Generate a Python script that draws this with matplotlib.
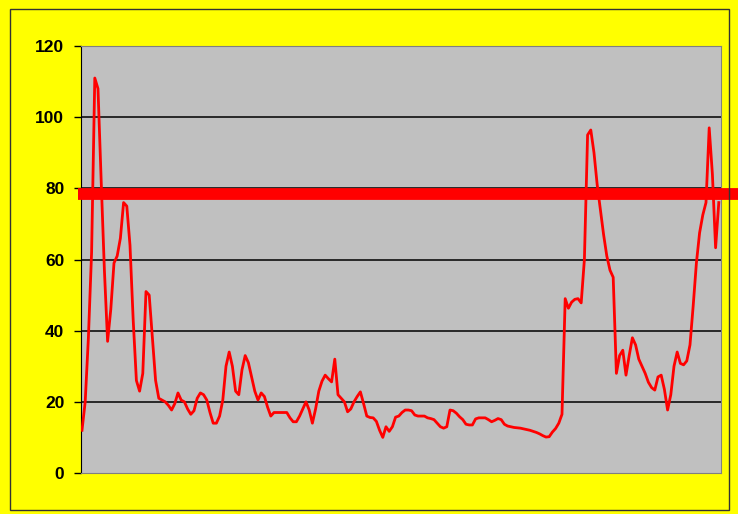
import matplotlib
matplotlib.use("Agg")
import matplotlib.pyplot as plt
from matplotlib.patches import Rectangle

# daily readings, oldest first
readings = [
    12, 20, 38, 62, 111, 108, 82, 57, 37, 46,
    59, 61, 66, 76, 75, 64, 43, 26, 23, 28,
    51, 50, 38, 26, 21, 20.5, 20, 19, 17.7, 19.5,
    22.5, 20.5, 20, 18, 16.5, 17.5, 21, 22.5, 22, 20.5,
    17, 14, 14, 16, 20.5, 30, 34, 30, 23, 22,
    29, 33, 31, 27, 23, 20.5, 22.5, 21.5, 18.5, 16,
    17, 17, 17, 17, 17, 15.5, 14.4, 14.4, 16, 18,
    20, 17.7, 14, 18, 23, 25.8, 27.5, 26.5, 25.6, 32,
    22, 21, 20, 17.2, 18, 20, 21.5, 22.8, 19.5, 16,
    15.6, 15.5, 14.5, 12, 10, 13, 11.7, 13, 15.7, 16,
    17, 17.7, 17.7, 17.5, 16.3, 16, 16, 16, 15.5, 15.3,
    15, 14, 13, 12.6, 13, 17.7, 17.5, 16.8, 15.8, 15,
    13.7, 13.5, 13.5, 15.2, 15.5, 15.5, 15.5, 15, 14.4, 14.8,
    15.3, 15, 13.7, 13.2, 13, 12.8, 12.7, 12.6, 12.4, 12.2,
    12, 11.7, 11.4, 11, 10.5, 10.1, 10.2, 11.5, 12.5, 14,
    16.5, 49, 46.3, 48, 48.8, 49, 47.8, 60, 95, 96.4,
    90, 81, 74, 67, 61, 57, 55, 28, 33, 34.5,
    27.5, 33, 38, 36, 32, 30, 28, 25.5, 24, 23.3,
    27, 27.5, 23.5, 17.7, 22, 30, 34, 30.8, 30.4, 31.5,
    36, 47, 59, 67.5, 72.5, 76, 97, 84, 63.3, 76,
]
threshold = 78.5
y_ticks = [0, 20, 40, 60, 80, 100, 120]

fig = plt.figure(figsize=(7.38, 5.14), dpi=100, facecolor="#ffff00")
ax = fig.add_axes([81 / 738, 41 / 514, 640 / 738, 427 / 514])
ax.set_facecolor("#c0c0c0")

# outer frame round the whole chart
fig.patches.append(Rectangle((10 / 738, 4 / 514), 719 / 738, 501 / 514,
                             transform=fig.transFigure, fill=False,
                             edgecolor="#333333", linewidth=1.0))

for v in y_ticks[1:]:
    ax.axhline(v, color="black", linewidth=1.1, zorder=1)

ax.plot(range(len(readings)), readings, color="#ff0000", linewidth=2.0, zorder=3)

# limit line runs past the plot area
ax.axhline(threshold, xmin=-0.005, xmax=1.03, color="#ff0000",
           linewidth=8.5, clip_on=False, zorder=4, solid_capstyle="butt")

ax.set_xlim(-0.31, len(readings) - 1 + 0.69)
ax.set_ylim(0, 120)
ax.set_xticks([])
ax.set_yticks(y_ticks)
ax.set_yticklabels([str(v) for v in y_ticks], fontsize=12.5,
                   fontweight="bold", family="Liberation Sans")
ax.tick_params(axis="y", direction="out", length=5, width=1.0, pad=7,
               colors="black")

for side in ["top", "right", "bottom"]:
    ax.spines[side].set_color("#808080")
ax.spines["left"].set_color("black")

fig.savefig("out.png", dpi=100, facecolor=fig.get_facecolor())
